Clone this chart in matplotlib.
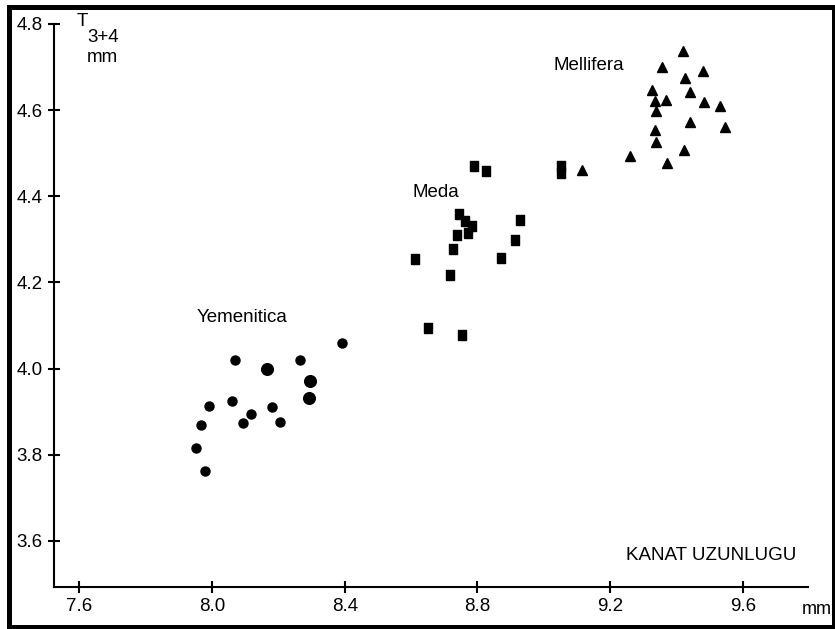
import matplotlib.pyplot as plt
from matplotlib.patches import Rectangle

plt.rcParams['font.family'] = ['Liberation Sans', 'DejaVu Sans']

# Yemenitica (circles)
yem_x = [8.068, 8.264, 8.391, 7.990, 8.060, 8.118, 8.181, 7.968, 8.093, 8.206, 7.951, 7.980]
yem_y = [4.019, 4.019, 4.060, 3.914, 3.924, 3.895, 3.910, 3.870, 3.873, 3.876, 3.815, 3.762]
yem_big_x = [8.167, 8.294, 8.293]
yem_big_y = [4.000, 3.972, 3.931]

# Meda (squares)
meda_x = [8.743, 8.763, 8.784, 8.739, 8.771, 8.726, 8.927, 8.913, 8.613, 8.870,
          8.718, 8.652, 8.754, 8.790, 8.827, 9.053, 9.053]
meda_y = [4.359, 4.342, 4.332, 4.311, 4.315, 4.277, 4.346, 4.298, 4.254, 4.257,
          4.218, 4.094, 4.077, 4.470, 4.458, 4.471, 4.455]

# Mellifera (triangles)
mell_x = [9.419, 9.356, 9.479, 9.425, 9.327, 9.439, 9.335, 9.369, 9.483, 9.531,
          9.339, 9.441, 9.546, 9.334, 9.339, 9.423, 9.261, 9.371, 9.115]
mell_y = [4.737, 4.699, 4.691, 4.675, 4.647, 4.641, 4.622, 4.624, 4.619, 4.610,
          4.599, 4.572, 4.561, 4.555, 4.526, 4.507, 4.494, 4.478, 4.461]

xticks = [7.6, 8.0, 8.4, 8.8, 9.2, 9.6]
yticks = [3.6, 3.8, 4.0, 4.2, 4.4, 4.6, 4.8]

fs = 13.5

fig = plt.figure(figsize=(8.35, 6.29), dpi=100)
ax = fig.add_axes([0.0647, 0.0668, 0.9030, 0.8951])

ax.plot(yem_x, yem_y, 'o', color='black', ms=6.5, clip_on=False)
ax.plot(yem_big_x, yem_big_y, 'o', color='black', ms=8.4, clip_on=False)
rect_marker = [(-0.78, -1), (0.78, -1), (0.78, 1), (-0.78, 1), (-0.78, -1)]
ax.plot(meda_x, meda_y, ls='none', marker=rect_marker, color='black', ms=6.5, clip_on=False)
ax.plot(mell_x, mell_y, '^', color='black', ms=7, clip_on=False)

ax.set_xlim(7.524, 9.796)
ax.set_ylim(3.493, 4.8)
ax.set_xticks(xticks)
ax.set_xticklabels([f'{v:.1f}' for v in xticks])
ax.set_yticks(yticks)
ax.set_yticklabels([f'{v:.1f}' for v in yticks])

for s in ['top', 'right']:
    ax.spines[s].set_visible(False)
for s in ['left', 'bottom']:
    ax.spines[s].set_linewidth(1.5)
ax.tick_params(direction='inout', length=8, width=1.5, labelsize=fs, pad=4)

ax.text(7.955, 4.1086, 'Yemenitica', fontsize=fs, va='baseline')
ax.text(8.603, 4.399, 'Meda', fontsize=fs, va='baseline')
ax.text(9.028, 4.693, 'Mellifera', fontsize=fs, va='baseline')
ax.text(9.248, 3.555, 'KANAT UZUNLUGU', fontsize=fs, va='baseline')
ax.text(9.778, 3.431, 'mm', fontsize=13, va='baseline', clip_on=False)
ax.text(7.591, 4.796, 'T', fontsize=13.5, va='baseline', clip_on=False)
ax.text(7.624, 4.757, '3+4', fontsize=fs, va='baseline')
ax.text(7.624, 4.712, 'mm', fontsize=fs, va='baseline')

# frame round the whole picture, kept under the axes texts
fig.patches.append(Rectangle((9 / 835, 2 / 629), 824.5 / 835, 620.5 / 629,
                             transform=fig.transFigure, fill=False,
                             lw=3.6, edgecolor='black', zorder=-1))

fig.savefig('out.png', dpi=100)
